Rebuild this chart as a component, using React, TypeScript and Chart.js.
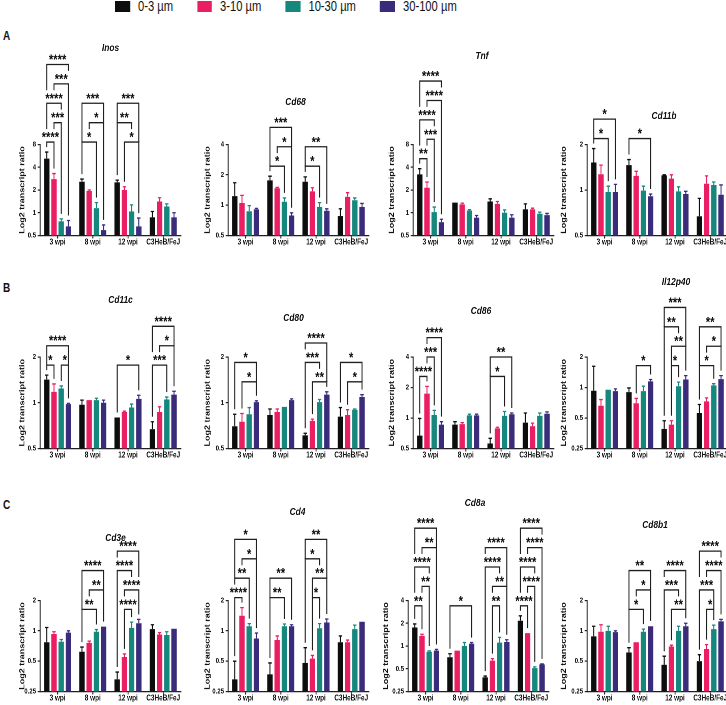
import React, { useEffect, useRef } from 'react';
import { Chart, registerables } from 'chart.js';
Chart.register(...registerables);

const FONT = "'Liberation Sans', Arial, sans-serif";
Chart.defaults.font.family = FONT;

// ---------- DATA ----------
const groups = ['3 wpi', '8 wpi', '12 wpi', 'C3HeB/FeJ'];
const sizes = ['0-3 µm', '3-10 µm', '10-30 µm', '30-100 µm'];
const colors = ['#0d0d0d', '#ea1e63', '#15877d', '#3b2b7b'];

const ticks05_8 = [0.5, 1, 2, 4, 8];
const ticks05_4 = [0.5, 1, 2, 4];
const ticks05_2 = [0.5, 1, 2];
const ticks025_2 = [0.25, 0.5, 1, 2];
const ticks025_4 = [0.25, 0.5, 1, 2, 4];

// mean[size][group], upper = top of the error bar
// sig: [group, barA, barB, stackLevel, label]
const inosMean = [[5.2, 2.57, 2.52, 0.87], [2.79, 1.94, 2.0, 1.41], [0.77, 1.15, 1.04, 1.21], [0.66, 0.59, 0.66, 0.87]];
const inosUpper = [[6.35, 2.79, 2.7, 1.04], [3.3, 2.0, 2.21, 1.58], [0.83, 1.36, 1.27, 1.31], [0.79, 0.69, 0.85, 1.0]];
const inosSig = [[0, 0, 1, 0, '****'], [0, 1, 2, 1, '***'], [0, 0, 2, 2, '****'], [0, 1, 3, 3, '***'], [0, 0, 3, 4, '****'],
  [1, 0, 2, 0, '*'], [1, 1, 3, 1, '*'], [1, 0, 3, 2, '***'], [2, 1, 3, 0, '*'], [2, 0, 2, 1, '**'], [2, 0, 3, 2, '***']];

const cd68Mean = [[1.23, 1.76, 1.71, 0.78], [1.05, 1.47, 1.37, 1.21], [0.87, 1.08, 0.96, 1.12], [0.91, 0.79, 0.88, 0.96]];
const cd68Upper = [[1.67, 1.94, 1.91, 0.92], [1.25, 1.5, 1.49, 1.33], [0.99, 1.18, 1.06, 1.18], [0.93, 0.84, 0.92, 1.04]];
const cd68Sig = [[1, 0, 2, 0, '*'], [1, 1, 3, 1, '*'], [1, 0, 3, 2, '***'], [2, 0, 2, 0, '*'], [2, 0, 3, 1, '**']];

const tnfMean = [[3.22, 1.36, 1.41, 1.11], [2.14, 1.29, 1.31, 1.11], [1.02, 1.07, 1.0, 0.97], [0.75, 0.86, 0.86, 0.93]];
const tnfUpper = [[3.83, 1.38, 1.53, 1.31], [2.55, 1.34, 1.41, 1.15], [1.19, 1.1, 1.09, 1.02], [0.82, 0.92, 0.94, 0.98]];
const tnfSig = [[0, 0, 1, 0, '**'], [0, 1, 2, 1, '***'], [0, 0, 2, 2, '****'], [0, 1, 3, 3, '****'], [0, 0, 3, 4, '****']];

const cd11bMean = [[1.52, 1.46, 1.25, 0.67], [1.27, 1.24, 1.19, 1.1], [0.97, 0.99, 0.98, 1.08], [0.97, 0.91, 0.94, 0.93]];
const cd11bUpper = [[1.88, 1.59, 1.26, 0.88], [1.46, 1.33, 1.26, 1.24], [1.06, 1.06, 1.05, 1.13], [1.09, 0.94, 0.98, 1.08]];
const cd11bSig = [[0, 0, 2, 0, '*'], [0, 0, 3, 1, '*'], [1, 0, 3, 0, '*']];

const cd11cMean = [[1.42, 0.97, 0.8, 0.67], [1.18, 1.04, 0.87, 0.87], [1.24, 1.04, 0.93, 1.05], [0.98, 1.0, 1.06, 1.13]];
const cd11cUpper = [[1.52, 1.04, 0.8, 0.75], [1.33, 1.04, 0.88, 0.94], [1.29, 1.07, 0.98, 1.09], [0.99, 1.04, 1.12, 1.19]];
const cd11cSig = [[0, 0, 1, 0, '*'], [0, 2, 3, 0, '*'], [0, 0, 3, 1, '****'], [2, 0, 3, 0, '*'],
  [3, 0, 2, 0, '***'], [3, 1, 3, 1, '*'], [3, 0, 3, 2, '****']];

const cd80Mean = [[0.7, 0.83, 0.61, 0.81], [0.75, 0.87, 0.76, 0.83], [0.84, 0.94, 1.01, 0.9], [1.01, 1.04, 1.13, 1.09]];
const cd80Upper = [[0.84, 0.91, 0.63, 0.93], [0.85, 0.91, 0.78, 0.9], [0.93, 0.94, 1.05, 0.91], [1.03, 1.06, 1.18, 1.13]];
const cd80Sig = [[0, 1, 3, 0, '*'], [0, 0, 3, 1, '*'], [2, 1, 3, 0, '**'], [2, 0, 2, 1, '***'], [2, 0, 3, 2, '****'],
  [3, 1, 3, 0, '*'], [3, 0, 3, 1, '*']];

const cd86Mean = [[0.67, 0.86, 0.56, 0.9], [1.74, 0.87, 0.79, 0.83], [1.07, 1.06, 1.05, 1.05], [0.86, 1.06, 1.09, 1.1]];
const cd86Upper = [[0.99, 0.92, 0.63, 1.12], [2.05, 0.9, 0.81, 0.89], [1.19, 1.09, 1.16, 1.12], [0.92, 1.09, 1.12, 1.15]];
const cd86Sig = [[0, 0, 1, 0, '****'], [0, 1, 2, 1, '***'], [0, 1, 3, 2, '****'], [2, 0, 2, 0, '*'], [2, 0, 3, 1, '**']];

const il12Mean = [[0.93, 0.9, 0.39, 0.56], [0.66, 0.7, 0.43, 0.73], [0.95, 0.92, 1.03, 1.05], [0.92, 1.15, 1.2, 1.21]];
const il12Upper = [[1.62, 0.99, 0.47, 0.68], [0.76, 0.78, 0.47, 0.79], [0.95, 1.03, 1.13, 1.09], [0.97, 1.2, 1.31, 1.31]];
const il12Sig = [[1, 1, 3, 0, '*'], [2, 1, 2, 0, '*'], [2, 1, 3, 1, '**'], [2, 0, 2, 2, '**'], [2, 0, 3, 3, '***'],
  [3, 0, 2, 0, '*'], [3, 1, 3, 1, '*'], [3, 0, 3, 2, '**']];

const cd3eMean = [[0.77, 0.62, 0.33, 1.04], [0.93, 0.76, 0.55, 0.92], [0.78, 0.98, 1.07, 0.91], [0.96, 1.1, 1.19, 1.05]];
const cd3eUpper = [[1.08, 0.69, 0.39, 1.15], [0.98, 0.79, 0.59, 0.96], [0.82, 1.03, 1.22, 0.98], [1.0, 1.1, 1.3, 1.05]];
const cd3eSig = [[1, 0, 2, 0, '**'], [1, 1, 3, 1, '**'], [1, 0, 3, 2, '****'],
  [2, 1, 2, 0, '****'], [2, 1, 3, 1, '****'], [2, 0, 2, 2, '****'], [2, 0, 3, 3, '****']];

const cd4Mean = [[0.33, 0.37, 0.48, 0.77], [1.41, 0.81, 0.53, 0.77], [1.11, 1.11, 1.06, 1.04], [0.84, 1.11, 1.21, 1.23]];
const cd4Upper = [[0.5, 0.48, 0.68, 0.89], [1.7, 0.89, 0.57, 0.81], [1.18, 1.17, 1.18, 1.14], [0.95, 1.15, 1.31, 1.23]];
const cd4Sig = [[0, 0, 1, 0, '****'], [0, 0, 2, 1, '**'], [0, 1, 3, 2, '*'], [0, 0, 3, 3, '*'],
  [1, 0, 2, 0, '**'], [1, 0, 3, 1, '**'],
  [2, 1, 2, 0, '*'], [2, 1, 3, 1, '**'], [2, 0, 2, 2, '*'], [2, 0, 3, 3, '**']];

const cd8aMean = [[1.76, 0.71, 0.385, 2.16], [1.36, 0.87, 0.64, 1.48], [0.84, 1.0, 1.11, 0.51], [0.87, 1.07, 1.13, 0.57]];
const cd8aUpper = [[1.96, 0.79, 0.4, 2.51], [1.43, 0.88, 0.68, 1.48], [0.86, 1.11, 1.3, 0.53], [0.9, 1.11, 1.21, 0.58]];
const cd8aSig = [[0, 0, 1, 0, '**'], [0, 1, 2, 1, '**'], [0, 0, 2, 2, '****'], [0, 1, 3, 3, '**'], [0, 0, 3, 4, '****'],
  [1, 0, 3, 0, '*'],
  [2, 1, 2, 0, '**'], [2, 1, 3, 1, '**'], [2, 0, 2, 2, '****'], [2, 0, 3, 3, '****'],
  [3, 0, 1, 0, '****'], [3, 1, 2, 1, '****'], [3, 0, 2, 2, '****'], [3, 1, 3, 3, '****'], [3, 0, 3, 4, '****']];

const cd8b1Mean = [[0.88, 0.61, 0.46, 0.5], [0.98, 0.77, 0.7, 0.66], [1.0, 0.98, 1.0, 1.04], [0.97, 1.11, 1.11, 1.24]];
const cd8b1Upper = [[1.11, 0.68, 0.56, 0.58], [1.15, 0.77, 0.72, 0.73], [1.11, 1.04, 1.11, 1.14], [1.0, 1.12, 1.19, 1.3]];
const cd8b1Sig = [[1, 0, 2, 0, '*'], [1, 1, 3, 1, '*'], [1, 0, 3, 2, '**'],
  [2, 1, 3, 0, '**'], [2, 0, 2, 1, '***'], [2, 0, 3, 2, '****'],
  [3, 1, 2, 0, '*'], [3, 0, 2, 1, '***'], [3, 1, 3, 2, '****'], [3, 0, 3, 3, '****']];

// ---------- LAYOUT ----------
const SX = 0.8; // horizontal compression of the original figure
const YW = 40; // logical y-axis width
const PW = 176; // logical plot width
const PR = 6;
const STEP = 19.4;
const ROWS = [
  { canvasTop: 30, top: 144.5, bottom: 235.5 },
  { canvasTop: 272, top: 357, bottom: 448.5 },
  { canvasTop: 492, top: 600.5, bottom: 691.5 },
];
const COL_AX = [39.5, 227.5, 413, 587];
const COL_YT = [22, 207, 392, 564];

type Sig = (number | string)[];
interface PanelDef {
  name: string; mean: number[][]; upper: number[][]; sig: Sig[]; ticks: number[];
  row: number; col: number; tx: number; ty: number; ax?: number; ytx?: number;
}

const PANELS: PanelDef[] = [
  { name: 'Inos', mean: inosMean, upper: inosUpper, sig: inosSig, ticks: ticks05_8, row: 0, col: 0, tx: 110, ty: 48 },
  { name: 'Cd68', mean: cd68Mean, upper: cd68Upper, sig: cd68Sig, ticks: ticks05_4, row: 0, col: 1, tx: 295, ty: 102 },
  { name: 'Tnf', mean: tnfMean, upper: tnfUpper, sig: tnfSig, ticks: ticks05_8, row: 0, col: 2, tx: 482, ty: 56 },
  { name: 'Cd11b', mean: cd11bMean, upper: cd11bUpper, sig: cd11bSig, ticks: ticks05_2, row: 0, col: 3, tx: 664, ty: 116 },
  { name: 'Cd11c', mean: cd11cMean, upper: cd11cUpper, sig: cd11cSig, ticks: ticks05_2, row: 1, col: 0, tx: 120, ty: 300 },
  { name: 'Cd80', mean: cd80Mean, upper: cd80Upper, sig: cd80Sig, ticks: ticks05_2, row: 1, col: 1, tx: 293, ty: 318 },
  { name: 'Cd86', mean: cd86Mean, upper: cd86Upper, sig: cd86Sig, ticks: ticks05_4, row: 1, col: 2, tx: 481, ty: 311 },
  { name: 'Il12p40', mean: il12Mean, upper: il12Upper, sig: il12Sig, ticks: ticks025_2, row: 1, col: 3, tx: 676, ty: 282 },
  { name: 'Cd3e', mean: cd3eMean, upper: cd3eUpper, sig: cd3eSig, ticks: ticks025_2, row: 2, col: 0, tx: 115, ty: 538 },
  { name: 'Cd4', mean: cd4Mean, upper: cd4Upper, sig: cd4Sig, ticks: ticks025_2, row: 2, col: 1, tx: 297, ty: 512 },
  { name: 'Cd8a', mean: cd8aMean, upper: cd8aUpper, sig: cd8aSig, ticks: ticks025_4, row: 2, col: 2, tx: 475, ty: 503, ax: 408, ytx: 386 },
  { name: 'Cd8b1', mean: cd8b1Mean, upper: cd8b1Upper, sig: cd8b1Sig, ticks: ticks025_2, row: 2, col: 3, tx: 655, ty: 525 },
];

const AXC = '#1f1f1f';

function Panel({ p }: { p: PanelDef }) {
  const ref = useRef<HTMLCanvasElement>(null);
  const row = ROWS[p.row];
  const ax = p.ax ?? COL_AX[p.col];
  const ytx = p.ytx ?? COL_YT[p.col];
  const left = ax - YW * SX;
  const padTop = row.top - row.canvasTop;
  const plotH = row.bottom - row.top;
  const H = Math.ceil(padTop + plotH + 16);
  const XH = H - padTop - plotH;
  const W = YW + PW + PR;

  useEffect(() => {
    const canvas = ref.current!;
    const errTop = (chart: any, i: number, g: number) =>
      chart.scales.y.getPixelForValue(Math.max(p.upper[i][g], p.mean[i][g]));

    const annot = {
      id: 'annot',
      afterDatasetsDraw(chart: any) {
        const ctx = chart.ctx;
        const ys = chart.scales.y;
        ctx.save();
        p.upper.forEach((arr, i) => {
          const meta = chart.getDatasetMeta(i);
          arr.forEach((u, g) => {
            const bar = meta.data[g];
            const top = ys.getPixelForValue(u);
            if (top >= bar.y - 0.5) return;
            ctx.strokeStyle = colors[i];
            ctx.lineWidth = 1.3;
            const cw = bar.width * 0.32;
            ctx.beginPath();
            ctx.moveTo(bar.x, bar.y);
            ctx.lineTo(bar.x, top);
            ctx.moveTo(bar.x - cw, top);
            ctx.lineTo(bar.x + cw, top);
            ctx.stroke();
          });
        });
        ctx.restore();
      },
      afterDraw(chart: any) {
        const ctx = chart.ctx;
        ctx.save();
        // title
        ctx.fillStyle = '#111';
        ctx.font = `italic bold 10.5px ${FONT}`;
        ctx.textAlign = 'center';
        ctx.textBaseline = 'middle';
        ctx.fillText(p.name, (p.tx - left) / SX, p.ty - row.canvasTop);
        // significance brackets
        const gs = new Set(p.sig.map((s) => s[0] as number));
        let minTop = Infinity;
        gs.forEach((g) => {
          for (let i = 0; i < 4; i++) minTop = Math.min(minTop, errTop(chart, i, g));
        });
        const base = minTop - 10;
        ctx.strokeStyle = AXC;
        ctx.lineWidth = 1.3;
        ctx.font = `bold 14px ${FONT}`;
        ctx.textBaseline = 'alphabetic';
        const items = p.sig.map((s) => {
          const [g, a, b, lv, t] = s as [number, number, number, number, string];
          const xa = chart.getDatasetMeta(a).data[g].x;
          const xb = chart.getDatasetMeta(b).data[g].x;
          const cx = (xa + xb) / 2;
          const hw = ctx.measureText(t).width / 2 + 1;
          return { g, a, b, lv, t, xa, xb, cx, hw, ly: base - lv * STEP };
        });
        const legEnd = (it: any, k: number, x: number) => {
          let best: any = null;
          items.forEach((o) => {
            if (o.g === it.g && o.lv < it.lv && o.a <= k && k <= o.b) {
              if (!best || o.lv > best.lv) best = o;
            }
          });
          if (!best) return errTop(chart, k, it.g) - 5;
          if (Math.abs(x - best.cx) <= best.hw) return best.ly - 13;
          return best.ly;
        };
        items.forEach((it) => {
          const ya = legEnd(it, it.a, it.xa);
          const yb = legEnd(it, it.b, it.xb);
          ctx.beginPath();
          ctx.moveTo(it.xa, Math.max(ya, it.ly));
          ctx.lineTo(it.xa, it.ly);
          ctx.lineTo(it.xb, it.ly);
          ctx.lineTo(it.xb, Math.max(yb, it.ly));
          ctx.stroke();
          ctx.fillText(it.t, it.cx, it.ly - 0.5);
        });
        ctx.restore();
      },
    };

    const tickFont = { family: FONT, size: 7.5, weight: 'bold' as const };
    const chart = new Chart(canvas, {
      type: 'bar',
      data: {
        labels: groups,
        datasets: sizes.map((s, i) => ({
          label: s,
          data: p.mean[i],
          backgroundColor: colors[i],
          borderWidth: 0,
          barPercentage: 0.74,
          categoryPercentage: 0.82,
        })),
      },
      options: {
        responsive: false,
        animation: false,
        devicePixelRatio: 2,
        layout: { padding: { top: padTop, right: PR, left: 0, bottom: 0 } },
        plugins: { legend: { display: false }, tooltip: { enabled: false }, title: { display: false } },
        scales: {
          x: {
            type: 'category',
            offset: true,
            grid: { display: true, drawOnChartArea: false, drawTicks: true, tickLength: 3, offset: false, color: AXC, lineWidth: 1.2 },
            border: { display: true, color: AXC, width: 1.3 },
            ticks: { font: { family: FONT, size: 8, weight: 'bold' }, color: '#111', padding: -1, maxRotation: 0, autoSkip: false },
            afterFit: (s: any) => { s.height = XH; },
          },
          y: {
            type: 'logarithmic',
            min: p.ticks[0],
            max: p.ticks[p.ticks.length - 1],
            afterBuildTicks: (s: any) => { s.ticks = p.ticks.map((v) => ({ value: v })); },
            ticks: { font: tickFont, color: '#111', padding: 2, autoSkip: false, callback: (v: any) => String(v) },
            grid: { display: true, drawOnChartArea: false, drawTicks: true, tickLength: 3, color: AXC, lineWidth: 1.2 },
            border: { display: true, color: AXC, width: 1.3 },
            title: {
              display: true,
              text: 'Log2 transcript ratio',
              color: '#111',
              font: { family: FONT, size: 9, weight: 'bold' },
              padding: { top: (ytx - left) / SX - 5.4, bottom: 0 },
            },
            afterFit: (s: any) => { s.width = YW; },
          },
        },
      } as any,
      plugins: [annot],
    });
    return () => chart.destroy();
  }, []);

  return (
    <div style={{ position: 'absolute', left, top: row.canvasTop, width: W, height: H, transform: `scaleX(${SX})`, transformOrigin: '0 0' }}>
      <canvas ref={ref} width={W} height={H} />
    </div>
  );
}

const letters = [['A', 36], ['B', 288], ['C', 505]];

export default function App() {
  return (
    <div style={{ position: 'fixed', left: 0, top: 0, width: 726, height: 705, overflow: 'hidden', background: '#fff', fontFamily: FONT }}>
      <div style={{ position: 'absolute', left: 115, top: 0, height: 13, display: 'flex', alignItems: 'center', transform: `scaleX(${SX})`, transformOrigin: '0 0', whiteSpace: 'nowrap' }}>
        {sizes.map((s, i) => (
          <div key={s} style={{ display: 'flex', alignItems: 'center', marginRight: 30 }}>
            <div style={{ width: 18.75, height: 11, background: colors[i], marginRight: 10 }} />
            <span style={{ fontSize: 14, lineHeight: '13px', color: '#111' }}>{s}</span>
          </div>
        ))}
      </div>
      {letters.map(([l, y]) => (
        <div key={l as string} style={{ position: 'absolute', left: 3, top: (y as number) - 8, fontSize: 12.5, fontWeight: 'bold', lineHeight: '16px', transform: `scaleX(${SX})`, transformOrigin: '0 0', color: '#111' }}>{l}</div>
      ))}
      {PANELS.map((p) => <Panel key={p.name} p={p} />)}
    </div>
  );
}
